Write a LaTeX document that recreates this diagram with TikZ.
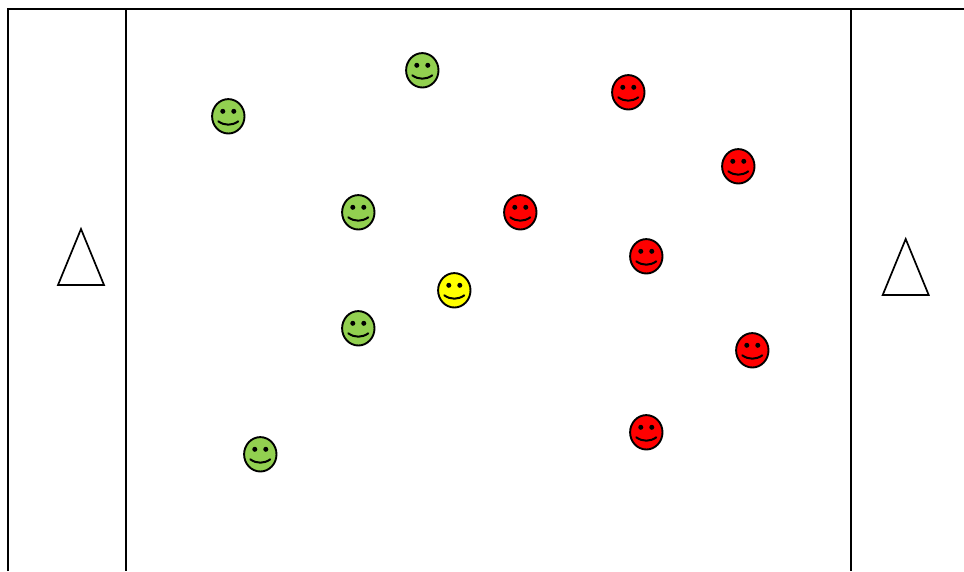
\documentclass[tikz,border=0pt]{standalone}
\definecolor{facegreen}{RGB}{146,208,80}
\definecolor{facered}{RGB}{255,0,0}
\definecolor{faceyellow}{RGB}{255,255,0}
\tikzset{
  x=1pt,y=-1pt,
  fieldline/.style={draw=black,line width=1.8pt},
  cone/.style={draw=black,line width=1.7pt,line join=miter,fill=white},
  smiley/.pic={
    \draw[black,line width=1.9pt,fill=#1] (0,0) ellipse [x radius=16.2,y radius=17.2];
    \fill[black] (-5.5,-5) circle [radius=2.5];
    \fill[black] (5.5,-5) circle [radius=2.5];
    \draw[black,line width=2pt,line cap=round] (-10,5) .. controls (-4,9.5) and (4,9.5) .. (10,5);
  }
}
\begin{document}
\begin{tikzpicture}
\useasboundingbox (0,0) rectangle (964,571);
\draw[fieldline] (8,571) -- (8,9) -- (964,9);
\draw[fieldline] (126,9) -- (126,571);
\draw[fieldline] (851,9) -- (851,571);
\draw[cone] (58,285) -- (104,285) -- (81,229) -- cycle;
\draw[cone] (882.7,295) -- (928.7,295) -- (905.7,239) -- cycle;
\pic at (228.3,116.3) {smiley=facegreen};
\pic at (422.3,70.3) {smiley=facegreen};
\pic at (358.3,212.3) {smiley=facegreen};
\pic at (358.3,328.3) {smiley=facegreen};
\pic at (260.3,454.3) {smiley=facegreen};
\pic at (454.3,290.3) {smiley=faceyellow};
\pic at (520.3,212.3) {smiley=facered};
\pic at (628.3,92.3) {smiley=facered};
\pic at (738.3,166.3) {smiley=facered};
\pic at (646.3,256.3) {smiley=facered};
\pic at (752.3,350.3) {smiley=facered};
\pic at (646.3,432.3) {smiley=facered};
\end{tikzpicture}
\end{document}
